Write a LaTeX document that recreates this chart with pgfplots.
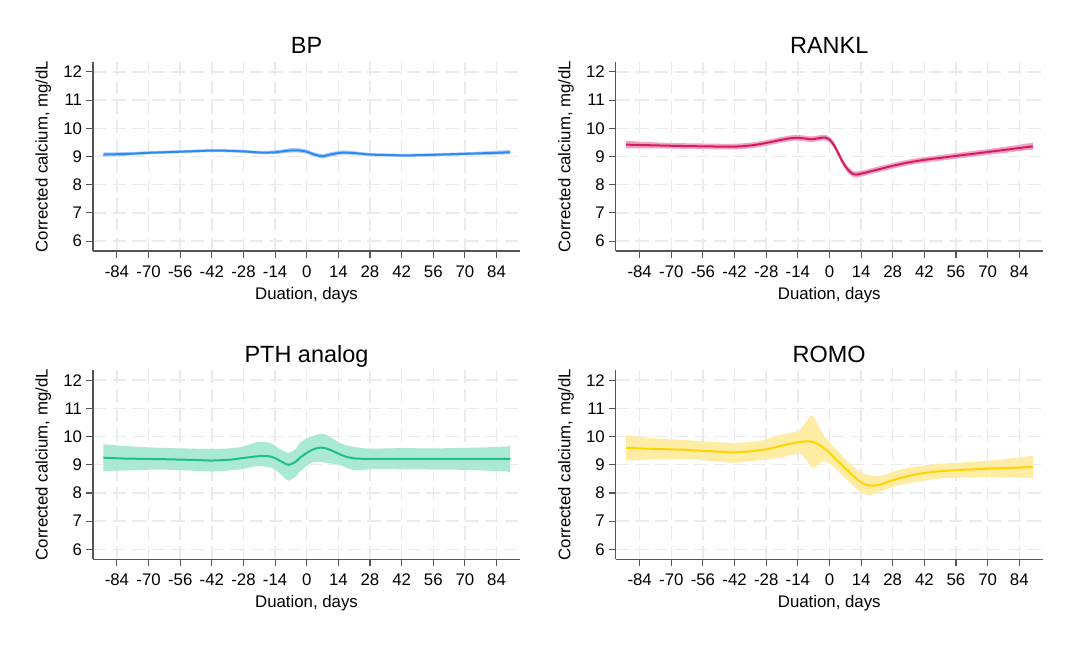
\documentclass[border=0pt]{standalone}
\usepackage{fontspec}
\setmainfont{Liberation Sans}
\usepackage{pgfplots}
\usepackage{pgfplotstable}
\pgfplotsset{compat=1.18}

\definecolor{bpline}{RGB}{47,137,245}
\definecolor{bpband}{RGB}{170,205,250}
\definecolor{rkline}{RGB}{216,27,96}
\definecolor{rkband}{RGB}{240,165,196}
\definecolor{ptline}{RGB}{30,192,135}
\definecolor{ptband}{RGB}{170,233,212}
\definecolor{roline}{RGB}{255,212,0}
\definecolor{roband}{RGB}{255,236,165}
\definecolor{gridc}{RGB}{235,235,235}
\definecolor{axisc}{RGB}{85,85,85}

% fitted mean by day
\pgfplotstableread{
d y
-90 9.07
-80 9.09
-70 9.13
-56 9.17
-42 9.21
-34 9.20
-28 9.18
-20 9.14
-14 9.15
-8 9.21
-4 9.22
0 9.17
3 9.08
7 9.01
11 9.08
16 9.14
21 9.12
28 9.07
36 9.05
44 9.04
56 9.06
68 9.09
80 9.12
90 9.15
}\bpmean

% 95% band outline: upper limit forwards, lower limit backwards
\pgfplotstableread{
d b
-90 9.145
-89 9.145
-80 9.155
-70 9.185
-56 9.225
-42 9.265
-34 9.255
-28 9.235
-20 9.195
-14 9.215
-8 9.285
-4 9.295
0 9.245
3 9.155
7 9.085
11 9.155
16 9.215
21 9.185
28 9.125
36 9.105
44 9.095
56 9.115
68 9.145
80 9.185
89 9.225
90 9.225
90 9.075
89 9.075
80 9.055
68 9.035
56 9.005
44 8.985
36 8.995
28 9.015
21 9.055
16 9.065
11 9.005
7 8.935
3 9.005
0 9.095
-4 9.145
-8 9.135
-14 9.085
-20 9.085
-28 9.125
-34 9.145
-42 9.155
-56 9.115
-70 9.075
-80 9.025
-89 8.995
-90 8.995
}\bpband

\pgfplotstableread{
d y
-90 9.42
-80 9.40
-70 9.38
-56 9.36
-42 9.35
-34 9.40
-28 9.48
-22 9.58
-16 9.66
-12 9.65
-8 9.61
-4 9.66
-2 9.67
0 9.60
2 9.40
4 9.10
6 8.78
8 8.55
10 8.40
12 8.36
16 8.43
22 8.55
28 8.67
35 8.79
42 8.88
50 8.96
60 9.06
70 9.16
80 9.26
90 9.36
}\rkmean

\pgfplotstableread{
d b
-90 9.55
-89 9.55
-80 9.51
-70 9.48
-56 9.46
-42 9.45
-34 9.50
-28 9.58
-22 9.68
-16 9.76
-12 9.75
-8 9.71
-4 9.76
-2 9.77
0 9.70
2 9.50
4 9.21
6 8.89
8 8.66
10 8.51
12 8.47
16 8.53
22 8.65
28 8.77
35 8.89
42 8.98
50 9.06
60 9.16
70 9.26
80 9.37
89 9.48
90 9.49
90 9.23
89 9.24
80 9.15
70 9.06
60 8.96
50 8.86
42 8.78
35 8.69
28 8.57
22 8.45
16 8.33
12 8.25
10 8.29
8 8.44
6 8.67
4 8.99
2 9.30
0 9.50
-2 9.57
-4 9.56
-8 9.51
-12 9.55
-16 9.56
-22 9.48
-28 9.38
-34 9.30
-42 9.25
-56 9.26
-70 9.28
-80 9.29
-89 9.29
-90 9.29
}\rkband

\pgfplotstableread{
d y
-90 9.25
-80 9.22
-65 9.20
-50 9.17
-42 9.15
-34 9.18
-28 9.24
-22 9.30
-18 9.31
-15 9.27
-12 9.15
-10 9.06
-8 9.00
-5 9.10
-3 9.25
0 9.42
3 9.55
6 9.61
9 9.57
12 9.47
15 9.36
18 9.27
22 9.22
28 9.21
42 9.21
56 9.21
70 9.21
80 9.21
90 9.21
}\ptmean

\pgfplotstableread{
d b
-90 9.72
-89 9.72
-80 9.66
-65 9.60
-50 9.57
-42 9.56
-34 9.58
-28 9.65
-22 9.80
-18 9.81
-15 9.72
-12 9.56
-10 9.48
-8 9.42
-5 9.55
-3 9.78
0 9.94
3 10.03
6 10.10
9 10.05
12 9.90
15 9.76
18 9.68
22 9.62
28 9.57
42 9.59
56 9.58
70 9.60
80 9.62
89 9.65
90 9.65
90 8.76
89 8.76
80 8.79
70 8.82
56 8.83
42 8.84
28 8.84
22 8.80
18 8.88
15 8.98
12 9.03
9 9.07
6 9.10
3 9.10
0 8.96
-3 8.75
-5 8.58
-8 8.44
-10 8.55
-12 8.70
-15 8.88
-18 8.93
-22 8.95
-28 8.86
-34 8.80
-42 8.76
-50 8.79
-65 8.83
-80 8.80
-89 8.78
-90 8.78
}\ptband

\pgfplotstableread{
d y
-90 9.60
-80 9.57
-65 9.53
-50 9.47
-42 9.44
-32 9.50
-26 9.58
-21 9.68
-16 9.77
-13 9.81
-10 9.83
-8 9.82
-6 9.77
-3 9.62
0 9.42
4 9.10
8 8.80
12 8.50
15 8.33
18 8.26
22 8.29
26 8.40
30 8.50
36 8.62
42 8.71
52 8.79
67 8.85
80 8.89
90 8.92
}\romean

\pgfplotstableread{
d b
-90 10.05
-89 10.04
-80 9.95
-65 9.88
-50 9.80
-42 9.77
-32 9.83
-26 9.95
-21 10.08
-16 10.15
-13 10.25
-10 10.55
-8 10.75
-6 10.55
-3 10.10
0 9.80
4 9.45
8 9.12
12 8.85
15 8.70
18 8.62
22 8.60
26 8.68
30 8.80
36 8.90
42 8.98
52 9.05
67 9.12
80 9.22
89 9.31
90 9.32
90 8.53
89 8.53
80 8.55
67 8.56
52 8.53
42 8.44
36 8.36
30 8.26
26 8.15
22 8.05
18 7.93
15 7.97
12 8.15
8 8.45
4 8.75
0 9.05
-3 9.12
-6 8.92
-8 8.90
-10 9.15
-13 9.38
-16 9.36
-21 9.27
-26 9.20
-32 9.15
-42 9.07
-50 9.12
-65 9.21
-80 9.18
-89 9.15
-90 9.15
}\roband

\pgfplotsset{
  calpanel/.style={
    scale only axis,
    width=320.25pt, height=141.75pt,
    anchor=south west,
    xmin=-94.6, xmax=94.4,
    ymin=5.65, ymax=12.35,
    xtick={-84,-70,-56,-42,-28,-14,0,14,28,42,56,70,84},
    xticklabels={-84,-70,-56,-42,-28,-14,0,14,28,42,56,70,84},
    ytick={6,7,8,9,10,11,12},
    yticklabels={6,7,8,9,10,11,12},
    axis x line*=bottom, axis y line*=left,
    axis line style={draw=axisc, line width=0.8pt},
    tick align=outside,
    major tick length=5.25pt,
    tick style={draw=axisc, line width=0.8pt},
    grid=major,
    major grid style={draw=gridc, line width=1.1pt, dash pattern=on 10pt off 4.7pt},
    tick label style={font=\fontsize{12.6}{15}\selectfont, text=black},
    xticklabel style={anchor=north, inner sep=0pt},
    xticklabel shift=5.8pt,
    yticklabel style={anchor=east, inner sep=0pt},
    yticklabel shift=2.8pt,
    xlabel={Duation, days},
    ylabel={Corrected calcium, mg/dL},
    label style={font=\fontsize{12.6}{15}\selectfont},
    xlabel style={at={(axis description cs:0.5,0)}, anchor=center, yshift=-33.2pt},
    ylabel style={at={(axis description cs:-0.1164,0.5)}, anchor=center},
    title style={at={(axis description cs:0.5,1)}, anchor=base,
                 font=\fontsize{17.6}{21}\selectfont},
  },
}

% shaded band first, fitted curve on top
\newcommand{\calcurve}[4]{%
  \addplot[fill=#4, draw=none, smooth, tension=0.4, forget plot] table[x=d, y=b] {#2} -- cycle;
  \addplot[#3, line width=1.5pt, smooth] table[x=d, y=y] {#1};
}

\begin{document}
\begin{tikzpicture}
\path[fill=white, use as bounding box] (0,0) rectangle (806.25pt,483.75pt);

\begin{axis}[calpanel, at={(69.75pt,295.5pt)}, title={BP}]
  \calcurve{\bpmean}{\bpband}{bpline}{bpband}
\end{axis}

\begin{axis}[calpanel, at={(461.8pt,295.5pt)}, title={RANKL}]
  \calcurve{\rkmean}{\rkband}{rkline}{rkband}
\end{axis}

\begin{axis}[calpanel, at={(69.75pt,64.3pt)}, title={PTH analog}]
  \calcurve{\ptmean}{\ptband}{ptline}{ptband}
\end{axis}

\begin{axis}[calpanel, at={(461.8pt,64.3pt)}, title={ROMO}]
  \calcurve{\romean}{\roband}{roline}{roband}
\end{axis}
\end{tikzpicture}
\end{document}
